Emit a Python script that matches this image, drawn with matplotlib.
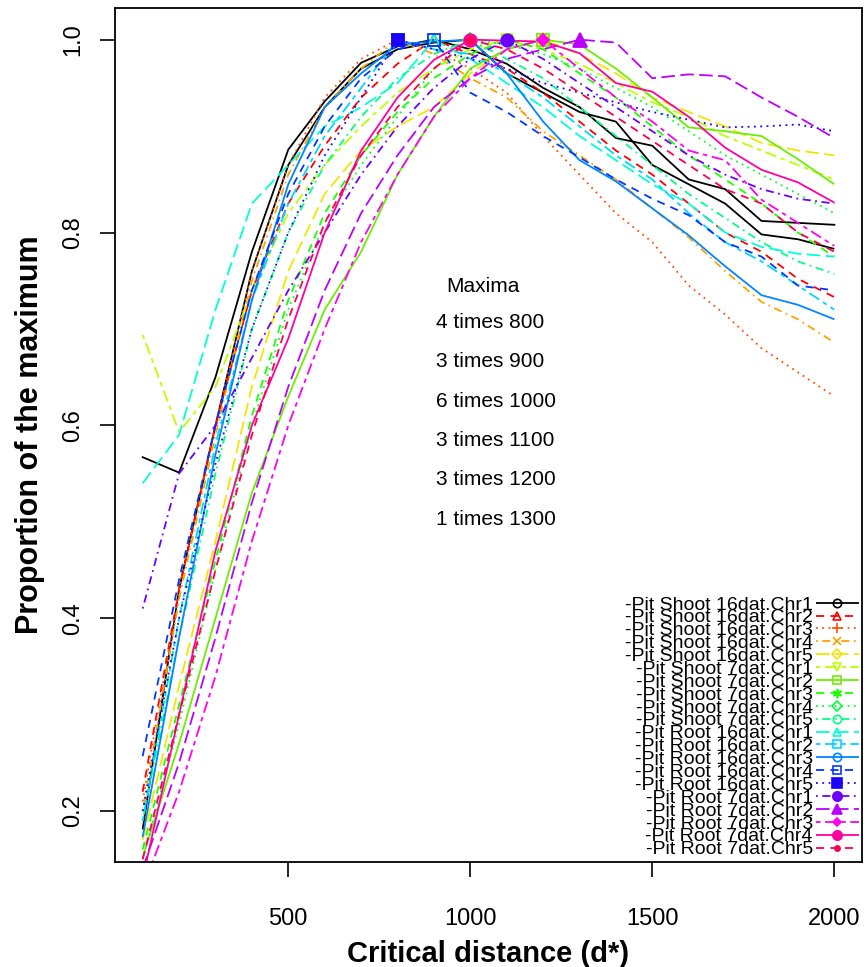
import matplotlib.pyplot as plt
from matplotlib.lines import Line2D
import numpy as np

plt.rcParams['font.family'] = ['Liberation Sans', 'DejaVu Sans']

# critical distance d*
dist = [100, 200, 300, 400, 500, 600, 700, 800, 900, 1000,
        1100, 1200, 1300, 1400, 1500, 1600, 1700, 1800, 1900, 2000]

# proportion of the maximum, one list per sample
shoot16_chr1 = [0.181, 0.43, 0.60, 0.76, 0.87, 0.93, 0.97, 0.99, 0.997, 1.0,
                0.965, 0.945, 0.925, 0.915, 0.87, 0.85, 0.83, 0.798, 0.793, 0.783]
shoot16_chr2 = [0.22, 0.43, 0.60, 0.74, 0.83, 0.89, 0.94, 0.975, 1.0, 0.985,
                0.97, 0.945, 0.915, 0.885, 0.86, 0.83, 0.80, 0.78, 0.752, 0.733]
shoot16_chr3 = [0.21, 0.43, 0.60, 0.76, 0.87, 0.94, 0.98, 1.0, 0.99, 0.97,
                0.945, 0.90, 0.86, 0.82, 0.79, 0.745, 0.715, 0.68, 0.655, 0.63]
shoot16_chr4 = [0.20, 0.42, 0.59, 0.75, 0.86, 0.93, 0.97, 1.0, 0.985, 0.96,
                0.94, 0.905, 0.88, 0.855, 0.825, 0.795, 0.76, 0.728, 0.71, 0.686]
shoot16_chr5 = [0.17, 0.33, 0.48, 0.64, 0.76, 0.84, 0.885, 0.91, 0.93, 0.965,
                0.99, 1.0, 0.985, 0.965, 0.94, 0.925, 0.91, 0.893, 0.885, 0.88]
shoot7_chr1 = [0.694, 0.593, 0.64, 0.74, 0.82, 0.87, 0.91, 0.945, 0.97, 0.99,
               1.0, 0.99, 0.975, 0.955, 0.935, 0.92, 0.90, 0.885, 0.87, 0.855]
shoot7_chr2 = [0.152, 0.27, 0.40, 0.53, 0.63, 0.72, 0.78, 0.86, 0.92, 0.97,
               0.99, 1.0, 0.995, 0.97, 0.94, 0.909, 0.905, 0.90, 0.876, 0.85]
shoot7_chr3 = [0.16, 0.31, 0.46, 0.61, 0.73, 0.82, 0.88, 0.925, 0.96, 0.985,
               1.0, 0.99, 0.965, 0.94, 0.91, 0.88, 0.855, 0.83, 0.80, 0.775]
shoot7_chr4 = [0.15, 0.29, 0.45, 0.60, 0.72, 0.81, 0.87, 0.92, 0.97, 1.0,
               0.995, 0.985, 0.97, 0.95, 0.93, 0.905, 0.88, 0.86, 0.84, 0.82]
shoot7_chr5 = [0.19, 0.38, 0.55, 0.70, 0.80, 0.87, 0.92, 0.96, 0.985, 1.0,
               0.98, 0.96, 0.93, 0.90, 0.87, 0.84, 0.815, 0.79, 0.77, 0.757]
root16_chr1 = [0.54, 0.59, 0.72, 0.83, 0.87, 0.91, 0.93, 0.955, 1.0, 0.98,
               0.955, 0.93, 0.90, 0.875, 0.85, 0.83, 0.80, 0.785, 0.778, 0.775]
root16_chr2 = [0.19, 0.40, 0.58, 0.73, 0.83, 0.90, 0.95, 1.0, 0.99, 0.985,
               0.965, 0.94, 0.91, 0.88, 0.855, 0.82, 0.79, 0.77, 0.745, 0.72]
root16_chr3 = [0.173, 0.38, 0.57, 0.73, 0.85, 0.93, 0.965, 0.995, 0.998, 1.0,
               0.965, 0.915, 0.875, 0.853, 0.825, 0.797, 0.765, 0.735, 0.725, 0.71]
root16_chr4 = [0.257, 0.44, 0.60, 0.74, 0.84, 0.91, 0.96, 0.99, 1.0, 0.945,
               0.925, 0.90, 0.878, 0.855, 0.835, 0.818, 0.79, 0.775, 0.745, 0.74]
root16_chr5 = [0.20, 0.40, 0.56, 0.70, 0.80, 0.88, 0.94, 1.0, 0.99, 0.98,
               0.97, 0.955, 0.945, 0.935, 0.925, 0.917, 0.909, 0.91, 0.912, 0.905]
root7_chr1 = [0.41, 0.55, 0.60, 0.67, 0.74, 0.80, 0.86, 0.91, 0.95, 0.98,
              1.0, 0.98, 0.955, 0.93, 0.905, 0.88, 0.86, 0.845, 0.835, 0.83]
root7_chr2 = [0.14, 0.25, 0.38, 0.52, 0.64, 0.74, 0.82, 0.88, 0.93, 0.96,
              0.98, 0.99, 1.0, 0.997, 0.96, 0.964, 0.962, 0.94, 0.92, 0.898]
root7_chr3 = [0.12, 0.22, 0.34, 0.48, 0.60, 0.70, 0.79, 0.86, 0.92, 0.96,
              0.99, 1.0, 0.97, 0.94, 0.915, 0.885, 0.875, 0.834, 0.81, 0.786]
root7_chr4 = [0.13, 0.30, 0.47, 0.60, 0.69, 0.80, 0.885, 0.94, 0.979, 1.0,
              0.999, 0.998, 0.986, 0.955, 0.946, 0.92, 0.888, 0.865, 0.852, 0.831]
root7_chr5 = [0.15, 0.30, 0.45, 0.59, 0.71, 0.81, 0.88, 0.93, 0.97, 1.0,
              0.99, 0.97, 0.945, 0.92, 0.895, 0.87, 0.845, 0.83, 0.80, 0.78]
# second black trace without a legend entry
shoot16_chr1_b = [0.567, 0.551, 0.65, 0.78, 0.886, 0.936, 0.976, 0.993, 1.0, 0.99,
                  0.975, 0.95, 0.93, 0.898, 0.89, 0.855, 0.845, 0.812, 0.81, 0.808]

series = [shoot16_chr1, shoot16_chr2, shoot16_chr3, shoot16_chr4, shoot16_chr5,
          shoot7_chr1, shoot7_chr2, shoot7_chr3, shoot7_chr4, shoot7_chr5,
          root16_chr1, root16_chr2, root16_chr3, root16_chr4, root16_chr5,
          root7_chr1, root7_chr2, root7_chr3, root7_chr4, root7_chr5]

labels = ['-Pit Shoot 16dat.Chr1', '-Pit Shoot 16dat.Chr2', '-Pit Shoot 16dat.Chr3',
          '-Pit Shoot 16dat.Chr4', '-Pit Shoot 16dat.Chr5', '-Pit Shoot 7dat.Chr1',
          '-Pit Shoot 7dat.Chr2', '-Pit Shoot 7dat.Chr3', '-Pit Shoot 7dat.Chr4',
          '-Pit Shoot 7dat.Chr5', '-Pit Root 16dat.Chr1', '-Pit Root 16dat.Chr2',
          '-Pit Root 16dat.Chr3', '-Pit Root 16dat.Chr4', '-Pit Root 16dat.Chr5',
          '-Pit Root 7dat.Chr1', '-Pit Root 7dat.Chr2', '-Pit Root 7dat.Chr3',
          '-Pit Root 7dat.Chr4', '-Pit Root 7dat.Chr5']

maxima_at = [800, 900, 1000, 1100, 1200, 1300]
maxima_n = [4, 3, 6, 3, 3, 1]

colors = ['#000000', '#FF0000', '#FF5000', '#FFA100', '#F2E600', '#BCFF00',
          '#6BEF00', '#1BFF00', '#00FF36', '#00FF86', '#00FFD7', '#00D7FF',
          '#0086FF', '#0036FF', '#1B00FF', '#6B00FF', '#BC00FF', '#FF00F2',
          '#FF00A1', '#FF0050']

# R lty 1..6 cycled
lty = [(0, ()), (0, (4.5, 3.5)), (0, (1, 2.5)), (0, (1, 2.5, 4.5, 2.5)),
       (0, (7.5, 3)), (0, (2.5, 2.5, 6.5, 2.5))]
# R pch 1..20 (approximate)
pch = [('o', False), ('^', False), ('+', False), ('x', False), ('D', False),
       ('v', False), ('s', False), ((6, 2, 0), False), ('D', False), ('o', False),
       ('^', False), ('s', False), ('o', False), ('s', False), ('s', True),
       ('o', True), ('^', True), ('D', True), ('o', True), ('o', True)]
msize = [8, 8, 9, 8, 7, 8, 8, 9, 7, 8, 8, 8, 8, 8, 9, 9, 10, 6, 9, 5]

fig = plt.figure(figsize=(8.68, 9.67), dpi=100)
ax = fig.add_axes([0.1325, 0.1086, 0.8606, 0.8831])

ax.plot(dist, shoot16_chr1_b, color='#000000', ls='-', lw=1.3)
handles = []
for i, ys in enumerate(series):
    ls = lty[i % 6]
    ax.plot(dist, ys, color=colors[i], ls=ls, lw=1.3)
    m, filled = pch[i]
    k = int(np.argmax(ys))
    ax.plot(dist[k], ys[k], ls='none', marker=m, ms=msize[i], color=colors[i],
            mfc=colors[i] if filled else 'none', mew=1.3, zorder=3)
    handles.append(Line2D([], [], color=colors[i], ls=ls, lw=1.3, marker=m,
                          ms=msize[i] * 0.75, mew=1.2,
                          mfc=colors[i] if filled else 'none'))

ax.set_xlim(24, 2076)
ax.set_ylim(0.1472, 1.0328)
ax.set_xticks([500, 1000, 1500, 2000])
ax.set_yticks([0.2, 0.4, 0.6, 0.8, 1.0])
ax.set_yticklabels(['0.2', '0.4', '0.6', '0.8', '1.0'], rotation=90, va='center')
ax.tick_params(length=11, width=1.2, labelsize=17)
ax.tick_params(axis='x', pad=22)
ax.tick_params(axis='y', pad=11)
for s in ax.spines.values():
    s.set_linewidth(1.3)

ax.set_xlabel('Critical distance (d*)', fontsize=21, fontweight='bold', labelpad=7)
ax.set_ylabel('Proportion of the maximum', fontsize=22, fontweight='bold', labelpad=12.5)

ax.text(1036, 0.744, 'Maxima', fontsize=15, ha='center', va='center')
for j, (a, n) in enumerate(zip(maxima_at, maxima_n)):
    ax.text(907, 0.7067 - j * 0.0408, '%d times %d' % (n, a), fontsize=15,
            ha='left', va='center')

ax.legend(handles, labels, loc='lower right', bbox_to_anchor=(1.011, -0.0094),
          frameon=False, markerfirst=False, fontsize=14, labelspacing=-0.243,
          handlelength=2.2, handletextpad=0.15, borderaxespad=0.2)

fig.savefig('out.png', dpi=100)
